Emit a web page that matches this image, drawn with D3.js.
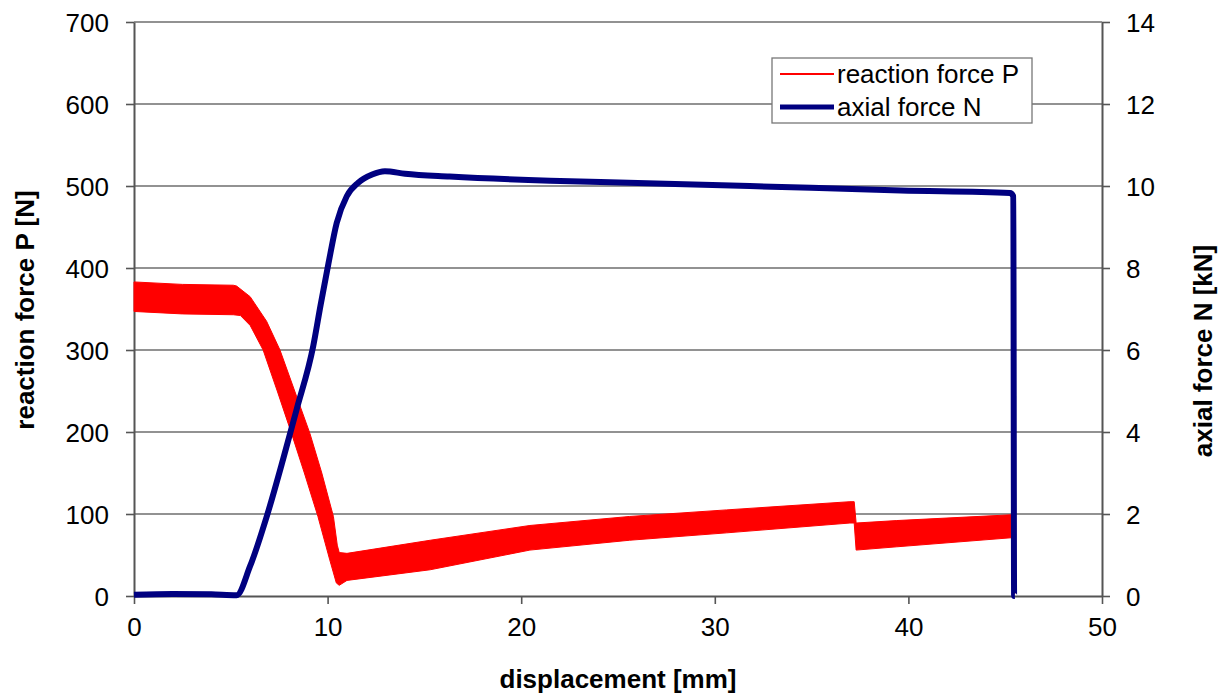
<html>
<head>
	<title>reaction force / axial force</title>
	<script type="text/javascript" src="https://cdn.jsdelivr.net/npm/d3@7"></script>
	<style>
		body { margin: 0; background: #fff; }
		text { font-family: "Liberation Sans", Arial, sans-serif; fill: #000; }
	</style>
</head>
<body>
	<script type="text/javascript">
		// Ticks
		const xTicks = [0, 10, 20, 30, 40, 50];
		const pTicks = [0, 100, 200, 300, 400, 500, 600, 700];
		const nTicks = [0, 2, 4, 6, 8, 10, 12, 14];

		const pUpperX = [0, 2.5, 5.13, 5.3, 6.0, 6.85, 7.54, 8.3, 9.09, 9.7, 10.3, 10.5, 10.6, 11.0, 15.3, 20.45, 25.6, 30.6, 36.98, 37.2, 37.3, 39.4, 45.3, 45.38, 45.42, 45.5];
		const pUpperY = [383, 380, 379, 378, 365, 335, 300, 250, 198, 150, 97, 62, 53, 52, 68, 86, 97, 105, 115, 115, 89, 92, 99, 99, 28, 28];
		const pLowerX = [0, 2.5, 5.13, 5.5, 6.0, 6.67, 7.4, 8.14, 8.8, 9.5, 10.1, 10.45, 10.6, 11.0, 15.3, 20.45, 25.6, 30.6, 36.98, 37.2, 37.3, 39.4, 45.3, 45.38, 45.42, 45.5];
		const pLowerY = [347, 344, 343, 342, 330, 300, 250, 198, 150, 97, 45, 16, 13, 19, 32, 56, 68, 77, 89, 89, 56, 60, 71, 71, 3, 3];

		// axial force N [kN]
		const nX = [0, 2, 4, 5.3, 5.99, 6.85, 7.71, 8.4, 9.26, 9.64, 10.04, 10.47, 10.99, 11.58, 12.3, 12.96, 14, 16.3, 21.5, 24.1, 31.8, 39.6, 45.25, 45.42, 45.46, 45.5];
		const nV = [0.03, 0.05, 0.04, 0.02, 0.72, 1.93, 3.35, 4.55, 6.1, 7.1, 8.1, 9.1, 9.75, 10.08, 10.28, 10.36, 10.3, 10.23, 10.13, 10.1, 10.0, 9.89, 9.83, 9.75, 0, 0];

		const w = 1224;
		const h = 695;
		const plotLeft = 134, plotRight = 1102, plotTop = 22, plotBottom = 596;

		const xScale = d3.scaleLinear().domain([0, 50]).range([plotLeft, plotRight]);
		const pScale = d3.scaleLinear().domain([0, 700]).range([plotBottom, plotTop]);
		const nScale = d3.scaleLinear().domain([0, 14]).range([plotBottom, plotTop]);

		const svg = d3.select("body")
			.append("svg")
			.attr("width", w)
			.attr("height", h);

		// gridlines
		svg.append("g")
			.selectAll("line")
			.data(pTicks.filter(d => d > 0))
			.enter()
			.append("line")
			.attr("x1", plotLeft)
			.attr("x2", plotRight)
			.attr("y1", d => pScale(d))
			.attr("y2", d => pScale(d))
			.attr("stroke", "#6e6e6e")
			.attr("stroke-width", 1.4);

		// axes
		const axisStyle = function (g) {
			g.select(".domain").attr("stroke", "#555").attr("stroke-width", 2);
			g.selectAll(".tick line").attr("stroke", "#555").attr("stroke-width", 1.6);
			g.selectAll(".tick text").style("font-size", "26px").attr("fill", "#111");
		};

		svg.append("g")
			.attr("transform", "translate(0," + plotBottom + ")")
			.call(d3.axisBottom(xScale).tickValues(xTicks).tickSize(8).tickSizeOuter(0).tickPadding(14))
			.call(axisStyle);

		svg.append("g")
			.attr("transform", "translate(" + plotLeft + ",0)")
			.call(d3.axisLeft(pScale).tickValues(pTicks).tickSize(8).tickSizeOuter(0).tickPadding(17))
			.call(axisStyle)
			.selectAll(".tick text").attr("dy", "0.36em");

		svg.append("g")
			.attr("transform", "translate(" + plotRight + ",0)")
			.call(d3.axisRight(nScale).tickValues(nTicks).tickSize(8).tickSizeOuter(0).tickPadding(16))
			.call(axisStyle)
			.selectAll(".tick text").attr("dy", "0.36em");

		// red band: upper edge forward, lower edge back
		const upperPts = pUpperX.map((x, i) => [x, pUpperY[i]]);
		const lowerPts = pLowerX.map((x, i) => [x, pLowerY[i]]).reverse();
		const bandLine = d3.line()
			.x(d => xScale(d[0]))
			.y(d => pScale(d[1]));
		svg.append("path")
			.attr("fill", "#ff0000")
			.attr("stroke", "#ff0000")
			.attr("stroke-width", 1)
			.attr("d", bandLine(upperPts.concat(lowerPts)) + "Z");

		// blue line
		const nData = nX.map((x, i) => ({ x: x, v: nV[i] }));
		svg.append("path")
			.datum(nData)
			.attr("fill", "none")
			.attr("stroke", "#000080")
			.attr("stroke-width", 6)
			.attr("stroke-linejoin", "round")
			.attr("d", d3.line()
				.curve(d3.curveMonotoneX)
				.x(d => xScale(d.x))
				.y(d => nScale(d.v)));

		// axis titles
		svg.append("text")
			.attr("x", (plotLeft + plotRight) / 2)
			.attr("y", 688)
			.attr("text-anchor", "middle")
			.style("font-size", "26px")
			.style("font-weight", "bold")
			.text("displacement [mm]");

		svg.append("text")
			.attr("transform", "translate(34,310) rotate(-90)")
			.attr("text-anchor", "middle")
			.style("font-size", "26px")
			.style("font-weight", "bold")
			.text("reaction force P [N]");

		svg.append("text")
			.attr("transform", "translate(1212,351) rotate(-90)")
			.attr("text-anchor", "middle")
			.style("font-size", "26px")
			.style("font-weight", "bold")
			.text("axial force N [kN]");

		// legend
		const legend = svg.append("g");
		legend.append("rect")
			.attr("x", 772)
			.attr("y", 58)
			.attr("width", 260)
			.attr("height", 65)
			.attr("fill", "#fff")
			.attr("stroke", "#777")
			.attr("stroke-width", 1.3);

		const items = [
			{ label: "reaction force P", color: "#ff0000", width: 2, y: 74 },
			{ label: "axial force N", color: "#000080", width: 5, y: 107 }
		];
		legend.selectAll("line")
			.data(items)
			.enter()
			.append("line")
			.attr("x1", 780)
			.attr("x2", 834)
			.attr("y1", d => d.y)
			.attr("y2", d => d.y)
			.attr("stroke", d => d.color)
			.attr("stroke-width", d => d.width);
		legend.selectAll("text")
			.data(items)
			.enter()
			.append("text")
			.attr("x", 837)
			.attr("y", d => d.y)
			.attr("dy", "0.35em")
			.style("font-size", "26px")
			.text(d => d.label);
	</script>
</body>
</html>
